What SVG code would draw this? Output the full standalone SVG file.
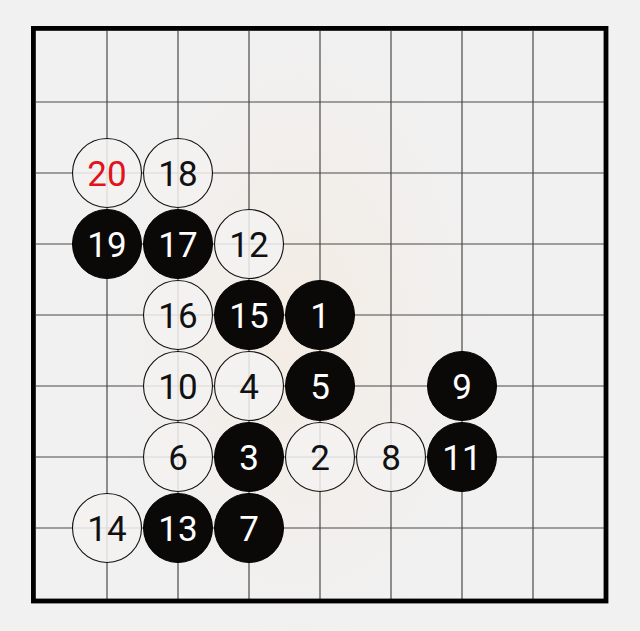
<svg xmlns="http://www.w3.org/2000/svg" width="640" height="631" viewBox="0 0 640 631">
<defs>
<radialGradient id="glow" cx="0.5" cy="0.5" r="0.5">
<stop offset="0" stop-color="#f6e6d2" stop-opacity="0.45"/>
<stop offset="1" stop-color="#f6e6d2" stop-opacity="0"/>
</radialGradient>
<style>
.bg{fill:#f1f1f2}
.grid line{stroke:#4a4a4a;stroke-width:1.2}
.border{fill:none;stroke:#000;stroke-width:4.8}
.b circle{fill:#0b0908;stroke:#000;stroke-width:1}
.w circle{fill:#f3f2f1;fill-opacity:0.85;stroke:#111;stroke-width:1.1}
text{font-family:Roboto,"Liberation Sans",Arial,sans-serif;font-size:35px;text-anchor:middle;dominant-baseline:central}
.b text{fill:#fff}
.w text{fill:#111}
.w text.red{fill:#e0141a}
</style>
</defs>
<rect class="bg" x="0" y="0" width="640" height="631"/>
<ellipse cx="300" cy="330" rx="200" ry="320" fill="url(#glow)"/>
<g id="grid" class="grid">
<line x1="107" y1="31" x2="107" y2="599"/>
<line x1="178" y1="31" x2="178" y2="599"/>
<line x1="249" y1="31" x2="249" y2="599"/>
<line x1="320" y1="31" x2="320" y2="599"/>
<line x1="391" y1="31" x2="391" y2="599"/>
<line x1="462" y1="31" x2="462" y2="599"/>
<line x1="533" y1="31" x2="533" y2="599"/>
<line x1="36" y1="102" x2="604" y2="102"/>
<line x1="36" y1="173" x2="604" y2="173"/>
<line x1="36" y1="244" x2="604" y2="244"/>
<line x1="36" y1="315" x2="604" y2="315"/>
<line x1="36" y1="386" x2="604" y2="386"/>
<line x1="36" y1="457" x2="604" y2="457"/>
<line x1="36" y1="528" x2="604" y2="528"/>
</g>
<rect id="board-border" class="border" x="33.4" y="28.4" width="572.6" height="572.6"/>
<g id="s20" class="w"><circle cx="107" cy="173" r="34.5"/><text class="red" x="107" y="174">20</text></g>
<g id="s18" class="w"><circle cx="178" cy="173" r="34.5"/><text x="178" y="174">18</text></g>
<g id="s19" class="b"><circle cx="107" cy="244" r="34.5"/><text x="107" y="245">19</text></g>
<g id="s17" class="b"><circle cx="178" cy="244" r="34.5"/><text x="178" y="245">17</text></g>
<g id="s12" class="w"><circle cx="249" cy="244" r="34.5"/><text x="249" y="245">12</text></g>
<g id="s16" class="w"><circle cx="178" cy="315" r="34.5"/><text x="178" y="316">16</text></g>
<g id="s15" class="b"><circle cx="249" cy="315" r="34.5"/><text x="249" y="316">15</text></g>
<g id="s1" class="b"><circle cx="320" cy="315" r="34.5"/><text x="320" y="316">1</text></g>
<g id="s10" class="w"><circle cx="178" cy="386" r="34.5"/><text x="178" y="387">10</text></g>
<g id="s4" class="w"><circle cx="249" cy="386" r="34.5"/><text x="249" y="387">4</text></g>
<g id="s5" class="b"><circle cx="320" cy="386" r="34.5"/><text x="320" y="387">5</text></g>
<g id="s9" class="b"><circle cx="462" cy="386" r="34.5"/><text x="462" y="387">9</text></g>
<g id="s6" class="w"><circle cx="178" cy="457" r="34.5"/><text x="178" y="458">6</text></g>
<g id="s3" class="b"><circle cx="249" cy="457" r="34.5"/><text x="249" y="458">3</text></g>
<g id="s2" class="w"><circle cx="320" cy="457" r="34.5"/><text x="320" y="458">2</text></g>
<g id="s8" class="w"><circle cx="391" cy="457" r="34.5"/><text x="391" y="458">8</text></g>
<g id="s11" class="b"><circle cx="462" cy="457" r="34.5"/><text x="462" y="458">11</text></g>
<g id="s14" class="w"><circle cx="107" cy="528" r="34.5"/><text x="107" y="529">14</text></g>
<g id="s13" class="b"><circle cx="178" cy="528" r="34.5"/><text x="178" y="529">13</text></g>
<g id="s7" class="b"><circle cx="249" cy="528" r="34.5"/><text x="249" y="529">7</text></g>
</svg>
